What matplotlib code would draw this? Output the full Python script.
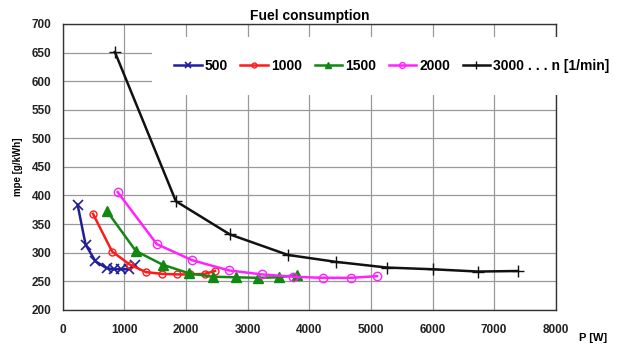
import matplotlib
matplotlib.use("Agg")
import matplotlib.pyplot as plt

plt.rcParams['font.family'] = ['Liberation Sans', 'DejaVu Sans']
plt.rcParams['font.weight'] = 'bold'

title = "Fuel consumption"
labels = ["500", "1000", "1500", "2000", "3000 . . . n [1/min]"]

x500 = [240, 370, 530, 710, 830, 950, 1080, 1170]
y500 = [384, 314, 285, 273, 271, 271, 271, 278]

x1000 = [490, 800, 1090, 1350, 1610, 1850, 2060, 2300, 2470]
y1000 = [368, 302, 279, 266, 263, 262, 262, 263, 268]

x1500 = [715, 1185, 1620, 2045, 2435, 2810, 3165, 3505, 3800]
y1500 = [373, 303, 279, 264, 258, 257, 256, 257, 261]

x2000 = [890, 1525, 2095, 2695, 3230, 3735, 4220, 4675, 5100]
y2000 = [406, 315, 287, 269, 262, 258, 256, 256, 259]

x3000 = [845, 1835, 2710, 3655, 4430, 5260, 6005, 6740, 7385]
y3000 = [651, 390, 332, 296, 284, 274, 271, 267, 268]

xticks = [0, 1000, 2000, 3000, 4000, 5000, 6000, 7000, 8000]
yticks = [200, 250, 300, 350, 400, 450, 500, 550, 600, 650, 700]

fig = plt.figure(figsize=(6.28, 3.47), dpi=100)
ax = fig.add_axes([0.100, 0.107, 0.785, 0.824])

lw = 1.8
ax.plot(x500, y500, color='#1f1f9a', marker='x', ms=7, mew=1.2, lw=lw, label=labels[0])
ax.plot(x1000, y1000, color='#ff1a1a', marker='o', ms=5, mfc='none', mew=1.0, lw=lw, label=labels[1])
ax.plot(x1500, y1500, color='#118811', marker='^', ms=7, lw=lw, label=labels[2])
ax.plot(x2000, y2000, color='#ff22ff', marker='o', ms=6, mfc='none', mew=1.0, lw=lw, label=labels[3])
ax.plot(x3000, y3000, color='#111111', marker='+', ms=8, mew=1.0, lw=lw, label=labels[4])

ax.set_xlim(0, 8000)
ax.set_ylim(200, 700)
ax.set_xticks(xticks)
ax.set_yticks(yticks)
ax.tick_params(labelsize=8.5, length=0)
ax.tick_params(axis='x', pad=10)
ax.tick_params(axis='y', pad=8)
for lab in ax.get_xticklabels() + ax.get_yticklabels():
    lab.set_fontweight('bold')
    lab.set_color('#222222')
ax.grid(True, color='#999999', lw=0.9)
ax.set_axisbelow(True)
for s in ax.spines.values():
    s.set_color('#333333')
    s.set_linewidth(1.0)

ax.set_title(title, fontsize=10, fontweight='bold', pad=3)
ax.set_ylabel("mpe [g/kWh]", fontsize=7, fontweight='bold', labelpad=6)
fig.text(0.945, 0.026, "P [W]", fontsize=8, fontweight='bold', ha='center', va='center')

leg = ax.legend(loc='center left', bbox_to_anchor=(145/628, 1 - 66/347),
                bbox_transform=fig.transFigure, ncol=5, frameon=True,
                fancybox=False, edgecolor='none', facecolor='white', framealpha=1,
                prop={'weight': 'bold', 'size': 10}, handlelength=2.0, markerscale=0.7,
                handletextpad=0.2, columnspacing=0.9, borderpad=1.6)

fig.savefig("out.png", dpi=100)
